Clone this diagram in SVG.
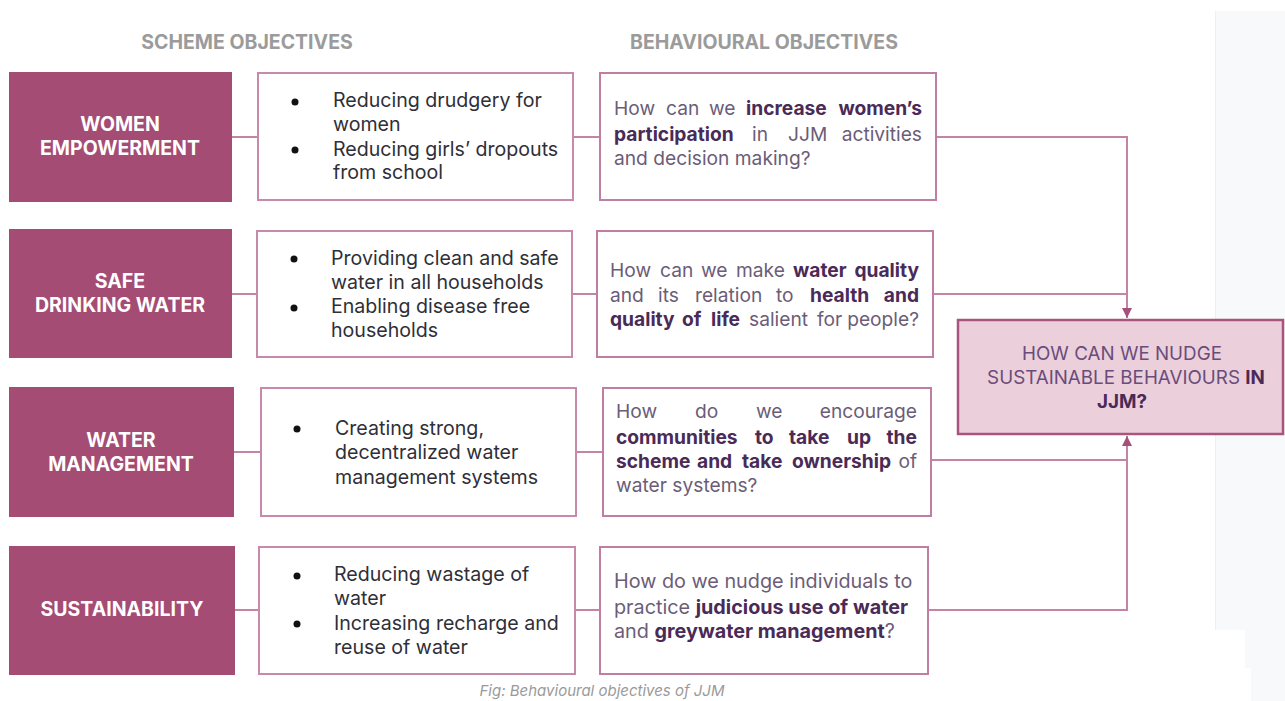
<svg xmlns="http://www.w3.org/2000/svg" width="1285" height="701" viewBox="0 0 1285 701">
  <style>
    .hdr { font-family: Inter, "Noto Sans", "Liberation Sans", sans-serif; font-weight: 700; font-size: 19.5px; fill: #9b9b9b; text-anchor: middle; }
    .cat { fill: #a44c74; }
    .catText { font-family: Inter, "Noto Sans", "Liberation Sans", sans-serif; font-weight: 700; font-size: 19.5px; fill: #ffffff; text-anchor: middle; }
    .goal { fill: #ffffff; stroke: #c88aab; stroke-width: 2; }
    .goalText { font-family: Inter, "Noto Sans", "Liberation Sans", sans-serif; font-size: 19.6px; fill: #2f2f38; }
    .dot { fill: #111111; }
    .q { fill: #ffffff; stroke: #c07fa2; stroke-width: 2; }
    .qText { font-family: Inter, "Noto Sans", "Liberation Sans", sans-serif; font-size: 19.2px; fill: #6b5d78; }
    .qWide { font-size: 19.8px; }
    .end { text-anchor: end; }
    .b { font-weight: 700; fill: #4a2a57; }
    .link { fill: none; stroke: #c384a5; stroke-width: 2; }
    .hub { fill: #ebd0dc; stroke: #a8547f; stroke-width: 2.5; }
    .hubText { font-family: Inter, "Noto Sans", "Liberation Sans", sans-serif; font-size: 18.8px; fill: #6a4c7a; text-anchor: middle; }
    .cap { font-family: Inter, "Noto Sans", "Liberation Sans", sans-serif; font-style: italic; font-size: 15px; fill: #9a9a9a; text-anchor: middle; }
  </style>
  <defs>
    <marker id="arrow" viewBox="0 0 10 10" refX="10" refY="5" markerWidth="10" markerHeight="10" markerUnits="userSpaceOnUse" orient="auto">
      <path d="M0,0 L10,5 L0,10 z" fill="#a5507a"/>
    </marker>
  </defs>

  <rect width="1285" height="701" fill="#ffffff"/>
  <!-- side panel -->
  <g id="side-panel" fill="#f8f9fb">
    <rect x="1215" y="11" width="70" height="619"/>
    <rect x="1245" y="630" width="40" height="38"/>
    <rect x="1251" y="668" width="34" height="33"/>
    <line x1="1215.5" y1="11" x2="1215.5" y2="630" stroke="#eeeff2" stroke-width="1"/>
  </g>

  <!-- column headings -->
  <text class="hdr" x="247" y="49">SCHEME OBJECTIVES</text>
  <text class="hdr" x="764" y="49">BEHAVIOURAL OBJECTIVES</text>

  <!-- connectors -->
  <g id="connectors">
    <line class="link" x1="232" y1="137" x2="258" y2="137"/>
    <line class="link" x1="573" y1="137" x2="600" y2="137"/>
    <line class="link" x1="232" y1="294" x2="257" y2="294"/>
    <line class="link" x1="572" y1="294" x2="597" y2="294"/>
    <line class="link" x1="234" y1="452" x2="261" y2="452"/>
    <line class="link" x1="576" y1="452" x2="603" y2="452"/>
    <line class="link" x1="235" y1="610" x2="259" y2="610"/>
    <line class="link" x1="575" y1="610" x2="600" y2="610"/>
    <polyline class="link" points="936,137 1127,137 1127,318" marker-end="url(#arrow)"/>
    <line class="link" x1="933" y1="294" x2="1127" y2="294"/>
    <polyline class="link" points="928,610 1127,610 1127,436" marker-end="url(#arrow)"/>
    <line class="link" x1="931" y1="460" x2="1127" y2="460"/>
  </g>

  <!-- row 1 -->
  <g id="women-empowerment">
    <rect class="cat" x="9" y="72" width="223" height="130"/>
    <text class="catText" x="120" y="131">WOMEN</text>
    <text class="catText" x="120" y="155">EMPOWERMENT</text>
  </g>
  <g id="women-goals">
    <rect class="goal" x="258" y="73" width="315" height="127"/>
    <circle class="dot" cx="295" cy="102" r="3.5"/>
    <circle class="dot" cx="295" cy="150" r="3.5"/>
    <text class="goalText" x="333" y="107">Reducing drudgery for</text>
    <text class="goalText" x="333" y="131">women</text>
    <text class="goalText" x="333" y="156">Reducing girls’ dropouts</text>
    <text class="goalText" x="333" y="179">from school</text>
  </g>
  <g id="women-question">
    <rect class="q" x="600" y="73" width="336" height="127"/>
    <text class="qText" y="115"><tspan x="614">How</tspan><tspan x="666">can</tspan><tspan x="709">we</tspan><tspan class="b" x="746">increase</tspan></text>
    <text class="qText b end" x="922" y="115">women’s</text>
    <text class="qText" y="141"><tspan class="b" x="614">participation</tspan><tspan x="752">in</tspan><tspan x="788">JJM</tspan></text>
    <text class="qText end" x="922" y="141">activities</text>
    <text class="qText" x="614" y="165">and decision making?</text>
  </g>

  <!-- row 2 -->
  <g id="safe-drinking-water">
    <rect class="cat" x="9" y="229" width="223" height="129"/>
    <text class="catText" x="120" y="288">SAFE</text>
    <text class="catText" x="120" y="312">DRINKING WATER</text>
  </g>
  <g id="water-goals">
    <rect class="goal" x="257" y="231" width="315" height="126"/>
    <circle class="dot" cx="294" cy="259" r="3.5"/>
    <circle class="dot" cx="294" cy="308" r="3.5"/>
    <text class="goalText" x="331" y="265">Providing clean and safe</text>
    <text class="goalText" x="331" y="289">water in all households</text>
    <text class="goalText" x="331" y="313">Enabling disease free</text>
    <text class="goalText" x="331" y="337">households</text>
  </g>
  <g id="water-question">
    <rect class="q" x="597" y="231" width="336" height="126"/>
    <text class="qText" y="277"><tspan x="610">How</tspan><tspan x="660">can</tspan><tspan x="701">we</tspan><tspan x="736">make</tspan><tspan class="b" x="793">water</tspan></text>
    <text class="qText b end" x="919" y="277">quality</text>
    <text class="qText" y="302"><tspan x="610">and</tspan><tspan x="658">its</tspan><tspan x="695">relation</tspan><tspan x="776">to</tspan><tspan class="b" x="810">health</tspan></text>
    <text class="qText b end" x="919" y="302">and</text>
    <text class="qText" y="326"><tspan class="b" x="610">quality</tspan><tspan class="b" x="682">of</tspan><tspan class="b" x="711">life</tspan><tspan x="749">salient</tspan><tspan x="817">for</tspan></text>
    <text class="qText end" x="919" y="326">people?</text>
  </g>

  <!-- row 3 -->
  <g id="water-management">
    <rect class="cat" x="9" y="387" width="225" height="130"/>
    <text class="catText" x="121" y="447">WATER</text>
    <text class="catText" x="121" y="471">MANAGEMENT</text>
  </g>
  <g id="management-goals">
    <rect class="goal" x="261" y="388" width="315" height="128"/>
    <circle class="dot" cx="297" cy="429" r="3.5"/>
    <text class="goalText" x="335" y="435">Creating strong,</text>
    <text class="goalText" x="335" y="459">decentralized water</text>
    <text class="goalText" x="335" y="484">management systems</text>
  </g>
  <g id="management-question">
    <rect class="q" x="603" y="388" width="328" height="128"/>
    <text class="qText" y="418"><tspan x="616">How</tspan><tspan x="695">do</tspan><tspan x="756">we</tspan></text>
    <text class="qText end" x="917" y="418">encourage</text>
    <text class="qText b" y="444"><tspan x="616">communities</tspan><tspan x="755">to</tspan><tspan x="789">take</tspan><tspan x="847">up</tspan></text>
    <text class="qText b end" x="917" y="444">the</text>
    <text class="qText b" y="468"><tspan x="616">scheme</tspan><tspan x="697">and</tspan><tspan x="742">take</tspan><tspan x="792">ownership</tspan></text>
    <text class="qText end" x="917" y="468">of</text>
    <text class="qText" x="616" y="492">water systems?</text>
  </g>

  <!-- row 4 -->
  <g id="sustainability">
    <rect class="cat" x="9" y="546" width="226" height="129"/>
    <text class="catText" x="122" y="616">SUSTAINABILITY</text>
  </g>
  <g id="sustainability-goals">
    <rect class="goal" x="259" y="547" width="316" height="127"/>
    <circle class="dot" cx="297" cy="576" r="3.5"/>
    <circle class="dot" cx="297" cy="624" r="3.5"/>
    <text class="goalText" x="334" y="581">Reducing wastage of</text>
    <text class="goalText" x="334" y="605">water</text>
    <text class="goalText" x="334" y="630">Increasing recharge and</text>
    <text class="goalText" x="334" y="654">reuse of water</text>
  </g>
  <g id="sustainability-question">
    <rect class="q" x="600" y="547" width="328" height="127"/>
    <text class="qText qWide" x="614" y="588">How do we nudge individuals to</text>
    <text class="qText qWide" x="614" y="614">practice <tspan class="b">judicious use of water</tspan></text>
    <text class="qText qWide" x="614" y="638">and <tspan class="b">greywater management</tspan>?</text>
  </g>

  <!-- central question -->
  <g id="nudge-question">
    <rect class="hub" x="958" y="320" width="325" height="114"/>
    <text class="hubText" x="1122" y="360">HOW CAN WE NUDGE</text>
    <text class="hubText" x="1126" y="384">SUSTAINABLE BEHAVIOURS <tspan class="b">IN</tspan></text>
    <text class="hubText" x="1122" y="408"><tspan class="b">JJM?</tspan></text>
  </g>

  <text class="cap" x="602" y="696">Fig: Behavioural objectives of JJM</text>
</svg>
